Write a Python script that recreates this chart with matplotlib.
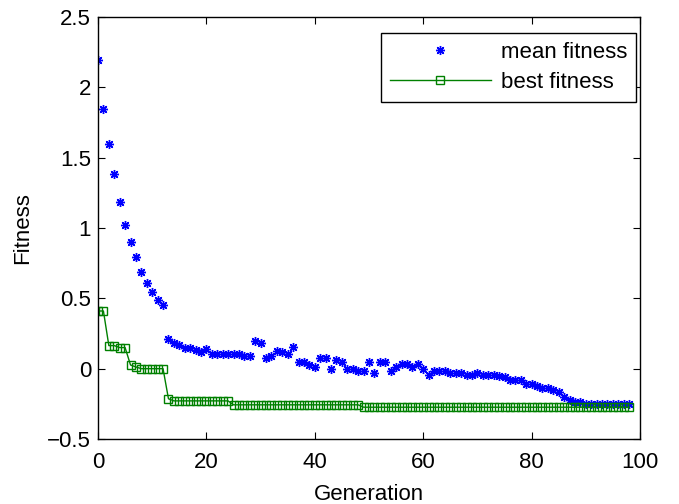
import matplotlib
matplotlib.use("Agg")
import matplotlib.pyplot as plt
import numpy as np

plt.rcParams['font.family'] = ['Liberation Sans', 'DejaVu Sans']

mean_fitness = [
    2.193, 1.843, 1.598, 1.386, 1.188, 1.021, 0.900, 0.793, 0.688, 0.609,
    0.548, 0.491, 0.452, 0.214, 0.179, 0.167, 0.150, 0.150, 0.136, 0.121,
    0.138, 0.105, 0.105, 0.105, 0.105, 0.105, 0.105, 0.088, 0.088, 0.198,
    0.181, 0.076, 0.093, 0.124, 0.121, 0.105, 0.152, 0.045, 0.045, 0.029,
    0.014, 0.076, 0.076, -0.002, 0.062, 0.045, -0.002, -0.002, -0.017, -0.017,
    0.045, -0.031, 0.045, 0.045, -0.014, 0.014, 0.031, 0.031, 0.014, 0.031,
    -0.002, -0.048, -0.014, -0.014, -0.014, -0.031, -0.031, -0.031, -0.045, -0.045,
    -0.031, -0.045, -0.045, -0.045, -0.050, -0.062, -0.079, -0.079, -0.079, -0.110,
    -0.110, -0.126, -0.140, -0.140, -0.155, -0.169, -0.198, -0.226, -0.238, -0.238,
    -0.250, -0.250, -0.250, -0.250, -0.250, -0.250, -0.250, -0.250, -0.250,
]

best_fitness = (
    [0.41, 0.41, 0.164, 0.164, 0.15, 0.15, 0.026, 0.012]
    + [0.0] * 5
    + [-0.214]
    + [-0.229] * 11
    + [-0.257] * 24
    + [-0.274] * 50
)

generations = np.arange(len(mean_fitness))

fig = plt.figure(figsize=(6.79, 5.04), dpi=100)
ax = fig.add_axes([98/679, 1-439/504, (640-98)/679, (439-17)/504])

ax.plot(generations, mean_fitness, linestyle='none', marker=(8, 2, 0), color='#0000ff',
        markersize=6.5, markeredgewidth=1.0, label='mean fitness')
ax.plot(np.arange(len(best_fitness)), best_fitness, color='#008000', linewidth=1.0,
        marker='s', markersize=6, markerfacecolor='none', markeredgecolor='#008000',
        markeredgewidth=1.0, label='best fitness')

ax.set_xlim(0, 100)
ax.set_ylim(-0.5, 2.5)
ax.set_xticks([0, 20, 40, 60, 80, 100])
ax.set_yticks([-0.5, 0, 0.5, 1, 1.5, 2, 2.5])
ax.set_yticklabels(['\u22120.5', '0', '0.5', '1', '1.5', '2', '2.5'])
ax.tick_params(direction='in', top=True, right=True, labelsize=16, length=5, width=0.8)
ax.tick_params(axis='x', pad=9)
ax.tick_params(axis='y', pad=5)
for s in ax.spines.values():
    s.set_linewidth(1.0)

ax.set_xlabel('Generation', fontsize=16, labelpad=8)
ax.set_ylabel('Fitness', fontsize=16, labelpad=10)

leg = ax.legend(loc='upper right', bbox_to_anchor=(636/679, 1-33/504),
                bbox_transform=fig.transFigure, fontsize=16, frameon=True, fancybox=False,
                edgecolor='black', framealpha=1, handlelength=4.55, borderaxespad=0,
                borderpad=0.4, labelspacing=0.4, handletextpad=0.45)
leg.get_frame().set_linewidth(1.0)

fig.savefig('out.png', dpi=100)
